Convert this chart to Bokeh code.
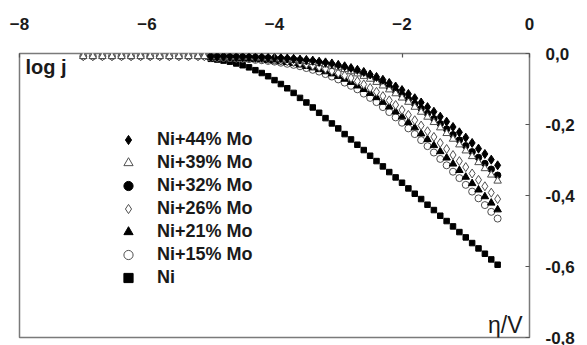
from bokeh.plotting import figure
from bokeh.models import (Range1d, LinearAxis, FixedTicker, CustomJSTickFormatter,
                          Legend, LegendItem, Label, ColumnDataSource)
from bokeh.embed import file_html
from bokeh.resources import INLINE

# ---------------- data ----------------
x_ticks = [-8, -6, -4, -2, 0]
y_ticks = [0.0, -0.2, -0.4, -0.6, -0.8]

# early, flat part (only the open-symbol series are measured there)
x_flat = [-7.0, -6.85, -6.7, -6.55, -6.4, -6.25, -6.1, -5.95, -5.8, -5.65, -5.5, -5.35, -5.2, -5.1]
y_flat = [-0.008, -0.008, -0.008, -0.008, -0.008, -0.008, -0.008, -0.008, -0.008, -0.008, -0.008, -0.008, -0.008, -0.008]

x_main = [-5.0, -4.9, -4.8, -4.7, -4.6, -4.5, -4.4, -4.3, -4.2, -4.1,
          -4.0, -3.9, -3.8, -3.7, -3.6, -3.5, -3.4, -3.3, -3.2, -3.1,
          -3.0, -2.9, -2.8, -2.7, -2.6, -2.5, -2.4, -2.3, -2.2, -2.1,
          -2.0, -1.9, -1.8, -1.7, -1.6, -1.5, -1.4, -1.3, -1.2, -1.1,
          -1.0, -0.9, -0.8, -0.7, -0.6, -0.5]

y_mo44 = [-0.009, -0.009, -0.009, -0.009, -0.010, -0.010, -0.010, -0.011, -0.011, -0.012,
          -0.012, -0.013, -0.014, -0.015, -0.017, -0.018, -0.020, -0.023, -0.025, -0.028,
          -0.032, -0.036, -0.041, -0.046, -0.052, -0.059, -0.066, -0.074, -0.083, -0.093,
          -0.103, -0.114, -0.126, -0.138, -0.151, -0.164, -0.178, -0.192, -0.207, -0.222,
          -0.237, -0.252, -0.268, -0.283, -0.299, -0.315]
y_mo39 = [-0.009, -0.009, -0.010, -0.010, -0.010, -0.011, -0.011, -0.012, -0.012, -0.013,
          -0.014, -0.015, -0.017, -0.018, -0.020, -0.022, -0.025, -0.028, -0.031, -0.035,
          -0.040, -0.045, -0.051, -0.057, -0.064, -0.072, -0.081, -0.091, -0.102, -0.113,
          -0.125, -0.137, -0.151, -0.165, -0.179, -0.194, -0.209, -0.225, -0.241, -0.257,
          -0.274, -0.290, -0.307, -0.324, -0.342, -0.359]
y_mo32 = [-0.009, -0.009, -0.009, -0.010, -0.010, -0.010, -0.011, -0.011, -0.012, -0.013,
          -0.014, -0.015, -0.016, -0.017, -0.019, -0.021, -0.023, -0.026, -0.029, -0.033,
          -0.037, -0.042, -0.047, -0.054, -0.060, -0.068, -0.076, -0.085, -0.095, -0.106,
          -0.117, -0.129, -0.142, -0.155, -0.169, -0.184, -0.198, -0.213, -0.229, -0.244,
          -0.260, -0.277, -0.293, -0.310, -0.326, -0.343]
y_mo26 = [-0.010, -0.010, -0.011, -0.011, -0.012, -0.012, -0.013, -0.014, -0.015, -0.016,
          -0.018, -0.020, -0.022, -0.024, -0.027, -0.030, -0.034, -0.038, -0.043, -0.049,
          -0.055, -0.062, -0.069, -0.078, -0.087, -0.097, -0.108, -0.120, -0.132, -0.145,
          -0.159, -0.173, -0.188, -0.203, -0.219, -0.235, -0.252, -0.269, -0.286, -0.303,
          -0.320, -0.338, -0.356, -0.374, -0.392, -0.410]
y_mo21 = [-0.011, -0.011, -0.011, -0.012, -0.013, -0.014, -0.015, -0.016, -0.017, -0.019,
          -0.021, -0.023, -0.025, -0.028, -0.032, -0.036, -0.040, -0.045, -0.051, -0.057,
          -0.064, -0.072, -0.081, -0.091, -0.101, -0.112, -0.124, -0.137, -0.150, -0.164,
          -0.178, -0.194, -0.209, -0.226, -0.242, -0.259, -0.276, -0.294, -0.311, -0.329,
          -0.348, -0.366, -0.384, -0.403, -0.421, -0.440]
y_mo15 = [-0.011, -0.012, -0.012, -0.013, -0.014, -0.015, -0.016, -0.018, -0.019, -0.021,
          -0.023, -0.026, -0.029, -0.032, -0.036, -0.041, -0.046, -0.051, -0.058, -0.065,
          -0.073, -0.082, -0.091, -0.101, -0.113, -0.125, -0.137, -0.151, -0.165, -0.180,
          -0.195, -0.211, -0.227, -0.244, -0.261, -0.279, -0.297, -0.315, -0.333, -0.351,
          -0.370, -0.389, -0.408, -0.427, -0.446, -0.465]
y_ni = [-0.015, -0.017, -0.020, -0.023, -0.028, -0.033, -0.039, -0.047, -0.055, -0.064,
        -0.075, -0.086, -0.098, -0.111, -0.125, -0.138, -0.152, -0.167, -0.182, -0.197,
        -0.211, -0.227, -0.242, -0.257, -0.272, -0.288, -0.303, -0.318, -0.334, -0.349,
        -0.364, -0.380, -0.395, -0.410, -0.426, -0.441, -0.457, -0.472, -0.487, -0.503,
        -0.518, -0.534, -0.549, -0.564, -0.580, -0.595]

labels = ["Ni+44% Mo", "Ni+39% Mo", "Ni+32% Mo", "Ni+26% Mo", "Ni+21% Mo", "Ni+15% Mo", "Ni"]

# ---------------- figure ----------------
FONT = "Liberation Sans"
p = figure(width=587, height=345, x_range=Range1d(-8, 0), y_range=Range1d(-0.8, 0),
           output_backend="svg", toolbar_location=None,
           x_axis_location=None, y_axis_location=None,
           min_border_left=19, min_border_top=53, min_border_right=58, min_border_bottom=8)
p.xgrid.visible = False
p.ygrid.visible = False
p.outline_line_color = "#7a7a7a"
p.outline_line_width = 1.5
p.background_fill_color = "white"
p.border_fill_color = "white"

xa = LinearAxis(ticker=FixedTicker(ticks=x_ticks))
ya = LinearAxis(ticker=FixedTicker(ticks=y_ticks),
                formatter=CustomJSTickFormatter(code="return tick.toFixed(1).replace('.', ',');"))
for ax in (xa, ya):
    ax.axis_line_color = None
    ax.major_tick_in = 4
    ax.major_tick_out = 0
    ax.major_tick_line_color = "#555555"
    ax.major_tick_line_width = 1.2
    ax.minor_tick_line_color = None
    ax.major_label_text_font = FONT
    ax.major_label_text_font_style = "bold"
    ax.major_label_text_font_size = "17px"
    ax.major_label_text_color = "#1a1a1a"
xa.major_label_standoff = 24
ya.major_label_standoff = 16
p.add_layout(xa, "above")
p.add_layout(ya, "right")

def src(xs, ys):
    return ColumnDataSource(dict(x=xs, y=ys))

open_line = "#505050"
r_ni = p.scatter("x", "y", source=src(x_main, y_ni), marker="square", size=5.5,
                 fill_color="black", line_color="black")
r15 = p.scatter("x", "y", source=src(x_flat + x_main, y_flat + y_mo15), marker="circle", size=7,
                fill_color="white", line_color=open_line, line_width=1)
r21 = p.scatter("x", "y", source=src(x_main, y_mo21), marker="triangle", size=7.5,
                fill_color="black", line_color="black")
r26 = p.scatter("x", "y", source=src(x_flat + x_main, y_flat + y_mo26), marker="diamond", size=9,
                fill_color="white", line_color=open_line, line_width=1)
r32 = p.scatter("x", "y", source=src(x_main, y_mo32), marker="circle", size=6.5,
                fill_color="black", line_color="black")
r39 = p.scatter("x", "y", source=src(x_flat + x_main, y_flat + y_mo39), marker="triangle", size=7.5,
                fill_color="white", line_color=open_line, line_width=1)
r44 = p.scatter("x", "y", source=src(x_main, y_mo44), marker="diamond", size=9,
                fill_color="black", line_color="black")

legend = Legend(items=[LegendItem(label=labels[0], renderers=[r44]),
                       LegendItem(label=labels[1], renderers=[r39]),
                       LegendItem(label=labels[2], renderers=[r32]),
                       LegendItem(label=labels[3], renderers=[r26]),
                       LegendItem(label=labels[4], renderers=[r21]),
                       LegendItem(label=labels[5], renderers=[r15]),
                       LegendItem(label=labels[6], renderers=[r_ni])],
                location=(97, 48), orientation="vertical")
legend.border_line_color = None
legend.background_fill_alpha = 0
legend.padding = 0
legend.margin = 0
legend.spacing = 0
legend.label_height = 23
legend.glyph_height = 23
legend.glyph_width = 24
legend.label_standoff = 17
legend.label_text_font = FONT
legend.label_text_font_style = "bold"
legend.label_text_font_size = "18px"
legend.label_text_color = "#1a1a1a"
legend.label_text_baseline = "middle"
p.add_layout(legend)

p.add_layout(Label(x=-7.906, y=-0.008, text="log j", text_font=FONT, text_font_style="bold",
                   text_font_size="20px", text_baseline="top", text_color="#1a1a1a"))
p.add_layout(Label(x=-0.11, y=-0.766, text="η/V", text_font=FONT, text_font_size="23px",
                   text_align="right", text_baseline="alphabetic", text_color="#1a1a1a"))

open("out.html", "w").write(file_html(p, INLINE))
